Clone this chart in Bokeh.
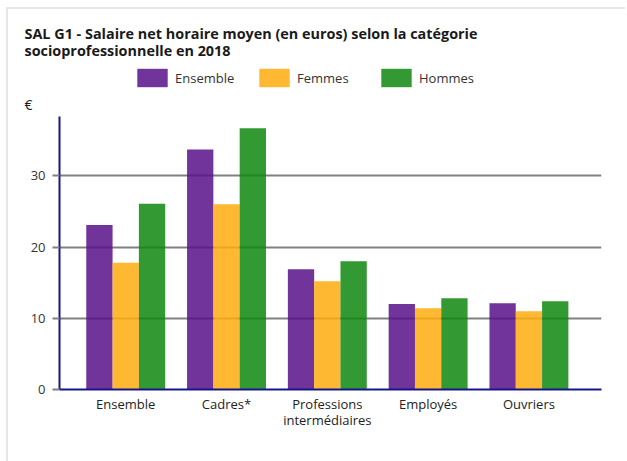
from bokeh.plotting import figure
from bokeh.models import (ColumnDataSource, Range1d, FixedTicker, Label, Legend,
                          LegendItem)
from bokeh.transform import dodge
from bokeh.embed import file_html
from bokeh.resources import INLINE

categories = ["Ensemble", "Cadres*", "Professions\nintermédiaires", "Employés", "Ouvriers"]
ensemble = [23.1, 33.7, 16.9, 12.0, 12.1]
femmes = [17.8, 26.0, 15.2, 11.4, 11.0]
hommes = [26.1, 36.7, 18.0, 12.8, 12.4]
series_names = ["Ensemble", "Femmes", "Hommes"]
y_ticks = [0, 10, 20, 30]
title_lines = ["SAL G1 - Salaire net horaire moyen (en euros) selon la catégorie",
               "socioprofessionnelle en 2018"]
unit = "€"

FONT = "Open Sans"
colors = ["#57108A", "#FFAB0E", "#0F870F"]
W = 619
BORDER = "#e6e6e6"

src = ColumnDataSource(dict(x=list(range(len(categories))),
                            Ensemble=ensemble, Femmes=femmes, Hommes=hommes))

# ---------------- header: title, legend, unit ----------------
h = figure(width=W, height=107, output_backend="svg", toolbar_location=None,
           x_range=Range1d(0, W), y_range=Range1d(0, 107),
           x_axis_type=None, y_axis_type=None,
           min_border_left=0, min_border_right=0, min_border_top=0, min_border_bottom=0)
h.outline_line_color = None
h.xgrid.visible = False
h.ygrid.visible = False
h.background_fill_color = "white"
h.border_fill_color = "white"
h.styles = {"margin-left": "8px", "margin-top": "9px",
            "box-shadow": f"-2px -2px 0 0 {BORDER}, -2px 0 0 0 {BORDER}"}

for txt, yy in zip(title_lines, [83, 66]):
    h.add_layout(Label(x=16, y=yy, text=txt, text_font=FONT, text_font_size="14.4px",
                       text_font_style="bold", text_color="#1a1a1a",
                       text_baseline="middle", text_align="left"))
h.add_layout(Label(x=16, y=12, text=unit, text_font=FONT, text_font_size="14px",
                   text_color="#1a1a1a", text_baseline="middle", text_align="left"))

# legend proxies: zero-height bars (invisible), used only for the legend swatches
legend_renderers = []
for name, col in zip(series_names, colors):
    legend_renderers.append(h.vbar(x="x", top=name, bottom=name, width=0.26,
                                   source=src, fill_color=col,
                                   fill_alpha=0.85, line_color=None))
items = [LegendItem(label=n, renderers=[r]) for n, r in zip(series_names, legend_renderers)]
legend = Legend(items=items, orientation="horizontal", location=(125, 27),
                glyph_width=38, glyph_height=23, label_standoff=4, label_width=80,
                spacing=0, padding=0, margin=0, border_line_color=None,
                background_fill_alpha=0, label_text_font=FONT,
                label_text_font_size="13px", label_text_color="#333333")
h.add_layout(legend, "center")

# ---------------- main chart ----------------
p = figure(width=W, height=345, output_backend="svg", toolbar_location=None,
           x_range=Range1d(-0.657, 4.72), y_range=Range1d(0, 38.34),
           min_border_left=51, min_border_right=26, min_border_top=0,
           min_border_bottom=72)
p.outline_line_color = None
p.background_fill_color = "white"
p.border_fill_color = "white"
p.styles = {"margin-left": "8px", "box-shadow": f"-2px 0 0 0 {BORDER}"}

w = 0.261
for name, off, col in zip(series_names, [-w, 0, w], colors):
    p.vbar(x=dodge("x", off, range=p.x_range), top=name, width=w, bottom=0,
           source=src, fill_color=col, fill_alpha=0.85, line_color=None)

p.xgrid.visible = False
p.ygrid.ticker = FixedTicker(ticks=[t for t in y_ticks if t > 0])
p.ygrid.grid_line_color = "#808080"
p.ygrid.grid_line_width = 2

p.yaxis.ticker = FixedTicker(ticks=y_ticks)
p.yaxis.axis_line_color = "#16168a"
p.yaxis.axis_line_width = 2
p.yaxis.major_tick_line_color = "#808080"
p.yaxis.major_tick_line_width = 2
p.yaxis.major_tick_out = 7
p.yaxis.major_tick_in = 0
p.yaxis.minor_tick_line_color = None
p.yaxis.major_label_standoff = 7
p.yaxis.major_label_text_font = FONT
p.yaxis.major_label_text_font_size = "13px"
p.yaxis.major_label_text_color = "#333333"

p.xaxis.ticker = FixedTicker(ticks=list(range(len(categories))))
p.xaxis.major_label_overrides = {i: c for i, c in enumerate(categories)}
p.xaxis.axis_line_color = "#16168a"
p.xaxis.axis_line_width = 2
p.xaxis.major_tick_line_color = None
p.xaxis.minor_tick_line_color = None
p.xaxis.major_tick_out = 0
p.xaxis.major_label_standoff = 5
p.xaxis.major_label_text_font = FONT
p.xaxis.major_label_text_font_size = "13px"
p.xaxis.major_label_text_line_height = 0.9
p.xaxis.major_label_text_color = "#222222"

open("out.html", "w").write(file_html([h, p], INLINE))
